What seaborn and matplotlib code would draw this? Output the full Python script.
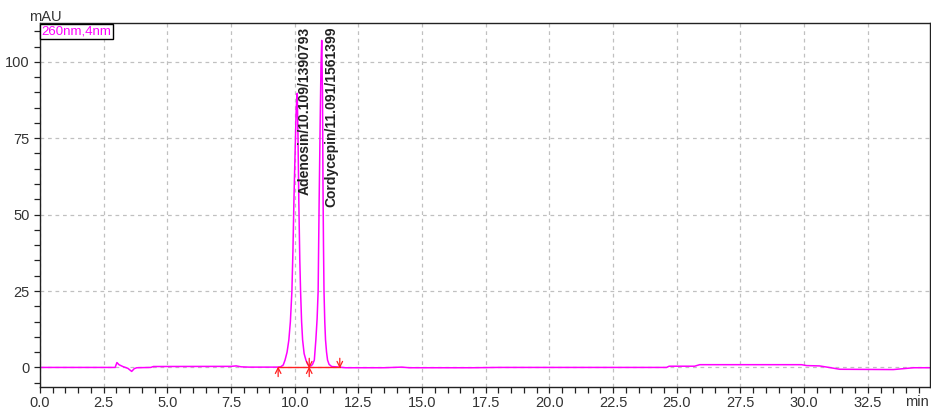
import numpy as np
import pandas as pd
import matplotlib
import matplotlib.pyplot as plt
import seaborn as sns

matplotlib.use('Agg')

# retention time (min) and absorbance (mAU)
time_min = [0.0, 2.95, 3.02, 3.10, 3.25, 3.45, 3.60, 3.70, 3.80, 4.35, 4.45,
            7.50, 7.70, 7.90, 8.20, 9.30, 9.45, 9.55, 9.62, 9.70, 9.77, 9.83,
            9.89, 9.93, 9.97, 10.02, 10.06, 10.10, 10.13, 10.16, 10.20, 10.23,
            10.27, 10.31, 10.37, 10.44, 10.50, 10.57, 10.64, 10.70, 10.77,
            10.83, 10.88, 10.92, 10.96, 11.00, 11.03, 11.06, 11.09, 11.11,
            11.13, 11.15, 11.18, 11.21, 11.25, 11.29, 11.35, 11.45, 11.60,
            12.00, 13.50, 14.20, 14.50, 17.00, 18.00, 24.60, 24.70, 25.70,
            25.90, 29.90, 30.10, 30.60, 30.90, 31.40, 33.50, 34.30, 34.93]
mau = [0.0, 0.0, 1.6, 0.9, 0.3, -0.3, -1.3, -0.4, -0.1, 0.0, 0.3,
       0.35, 0.5, 0.2, 0.1, 0.1, 0.2, 0.8, 2.4, 5.0, 9.0, 15.0,
       25.0, 38.0, 55.0, 72.0, 85.0, 89.7, 75.0, 55.0, 35.0, 25.0,
       15.0, 9.0, 4.5, 2.4, 1.2, 0.4, 0.5, 1.0, 2.4,
       9.0, 16.0, 25.0, 55.0, 80.0, 98.0, 107.0, 90.0, 60.0,
       40.0, 25.0, 15.0, 9.0, 5.0, 2.4, 1.0, 0.3, 0.2,
       -0.1, -0.1, 0.1, -0.1, -0.1, 0.0, 0.0, 0.4, 0.4,
       0.9, 0.9, 0.6, 0.5, 0.1, -0.6, -0.7, -0.1, -0.1]

peak_names = ['Adenosin/10.109/1390793', 'Cordycepin/11.091/1561399']
peak_label_x = [10.40, 11.42]
integration_marks = [9.35, 10.57, 11.77]

sns.set_style('white')
plt.rcParams['font.family'] = ['Liberation Sans', 'DejaVu Sans']

fig = plt.figure(figsize=(9.31, 4.09), dpi=100)
ax = fig.add_axes([40 / 931, 1 - 387.3 / 409, 889.7 / 931, 364 / 409])

df = pd.DataFrame({'t': time_min, 'mAU': mau})
sns.lineplot(data=df, x='t', y='mAU', ax=ax, color='#ff00ff', linewidth=1.1,
             estimator=None, sort=False)

# integration baseline and start/end markers
ax.plot([integration_marks[0], integration_marks[-1]], [0, 0], color='#ff2020', lw=1.0)
arrow = dict(arrowstyle='->', color='#ff2020', lw=0.9, shrinkA=0, shrinkB=0)
ax.annotate('', xy=(integration_marks[0], 0.3), xytext=(integration_marks[0], -3.0), arrowprops=arrow)
ax.annotate('', xy=(integration_marks[1], 0.3), xytext=(integration_marks[1], -3.0), arrowprops=arrow)
ax.annotate('', xy=(integration_marks[1], -0.3), xytext=(integration_marks[1], 3.0), arrowprops=arrow)
ax.annotate('', xy=(integration_marks[2], -0.3), xytext=(integration_marks[2], 3.0), arrowprops=arrow)

for name, x in zip(peak_names, peak_label_x):
    ax.text(x, 111.5, name, rotation=90, ha='center', va='top',
            fontsize=10, fontweight='bold', color='#222222')

ax.set_xlim(0, 34.93)
ax.set_ylim(-6.5, 112.6)
ax.set_xticks(np.arange(0, 34, 2.5))
ax.set_xticks(np.arange(0, 35, 0.5), minor=True)
ax.set_yticks([0, 25, 50, 75, 100])
ax.set_yticks(np.arange(-5, 112, 5), minor=True)
ax.set_xticklabels([f'{v:.1f}' for v in np.arange(0, 34, 2.5)])
ax.tick_params(axis='both', which='both', direction='out', length=4, width=0.9,
               color='#222222', labelsize=10.5, labelcolor='#333333',
               bottom=True, left=True, top=False, right=False)
ax.tick_params(axis='x', which='major', pad=2)
ax.grid(True, which='major', linestyle=(0, (3, 3)), color='#c0c0c0', linewidth=0.9)
ax.set_xlabel('')
ax.set_ylabel('')
for s in ax.spines.values():
    s.set_color('#222222')
    s.set_linewidth(1.0)

ax.text(0.002, 0.995, '260nm,4nm', transform=ax.transAxes, ha='left', va='top',
        fontsize=9.5, color='#ff00ff',
        bbox=dict(boxstyle='square,pad=0.12', facecolor='white', edgecolor='black', lw=1.0))

fig.text(45 / 931, 1 - 17 / 409, 'mAU', ha='center', va='center', fontsize=10.5, color='#333333')
fig.text(917 / 931, 1 - 402 / 409, 'min', ha='center', va='center', fontsize=10.5, color='#333333')

fig.savefig('out.png', dpi=100)
